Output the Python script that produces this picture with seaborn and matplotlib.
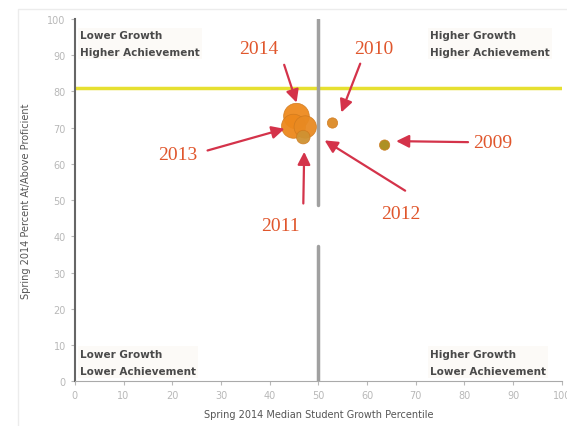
import matplotlib
matplotlib.use("Agg")
import matplotlib.pyplot as plt
import seaborn as sns
import pandas as pd

# Data
years = ["2014", "2013", "2012", "2011", "2010", "2009"]
growth = [45.5, 44.9, 47.3, 46.9, 52.9, 63.6]
proficient = [73.2, 70.4, 70.2, 67.4, 71.3, 65.2]
bubble = [10, 9, 8, 4, 3, 3]
colors = ["#ee8a1e", "#ec881c", "#e88a22", "#cf9232", "#dc8a26", "#a98a18"]

# label positions and arrow tails (data units)
label_x = [37.7, 21.2, 66.9, 42.2, 61.3, 85.8]
label_y = [92.0, 62.7, 46.4, 43.1, 92.0, 66.0]
tail_x = [42.8, 26.7, 68.3, 46.9, 58.8, 81.3]
tail_y = [88.1, 63.5, 52.2, 48.3, 88.4, 66.0]
head_x = [45.7, 43.6, 50.8, 47.1, 54.5, 65.4]
head_y = [76.2, 69.9, 66.9, 64.1, 73.5, 66.3]

target_line = 81
growth_mid = 50

quadrants = [
    (1, 97, "Lower Growth\nHigher Achievement"),
    (73, 97, "Higher Growth\nHigher Achievement"),
    (1, 9, "Lower Growth\nLower Achievement"),
    (73, 9, "Higher Growth\nLower Achievement"),
]

df = pd.DataFrame({"year": years, "growth": growth,
                   "proficient": proficient, "bubble": bubble})

sns.set_style("white")
plt.rcParams["font.family"] = ["DejaVu Sans"]

fig = plt.figure(figsize=(5.67, 4.27), dpi=100)
ax = fig.add_axes([0.132, 0.105, 0.859, 0.848])

# faint outer frame
fig.patches.append(plt.Rectangle((0.032, -0.1), 1.2, 1.077, transform=fig.transFigure,
                                 fill=False, edgecolor="#ececec", lw=1))

ax.axhline(target_line, color="#e6e030", lw=2.5, zorder=1)
ax.axvline(growth_mid, ymin=0, ymax=0.373, color="#a0a0a0", lw=2.5, zorder=1)
ax.axvline(growth_mid, ymin=0.486, ymax=1, color="#a0a0a0", lw=2.5, zorder=1)

sns.scatterplot(data=df, x="growth", y="proficient", size="bubble", sizes=(55, 340),
                hue="year", palette=dict(zip(years, colors)), legend=False,
                edgecolor="#d07a1e", linewidth=0.5, alpha=0.95, ax=ax, zorder=3)

for i, yr in enumerate(years):
    ax.text(label_x[i], label_y[i], yr, family="Liberation Serif", fontsize=14,
            color="#e0562c", ha="center", va="center", zorder=5)
    ax.annotate("", xy=(head_x[i], head_y[i]), xytext=(tail_x[i], tail_y[i]),
                arrowprops=dict(arrowstyle="-|>", color="#d4334a", lw=1.6,
                                mutation_scale=19), zorder=4)

for qx, qy, txt in quadrants:
    ax.text(qx, qy, txt, fontsize=7.5, fontweight="bold", color="#4a4a4a",
            ha="left", va="top", linespacing=1.9,
            bbox=dict(facecolor="#fcfaf7", edgecolor="none", pad=1.5))

ax.set_xlim(0, 100)
ax.set_ylim(0, 100)
ax.set_xticks(range(0, 101, 10))
ax.set_yticks(range(0, 101, 10))
ax.tick_params(axis="both", labelsize=7, colors="#b8b8b8", length=3, direction="out")
ax.tick_params(axis="both", which="both", bottom=True, left=True)
for side in ["top", "right"]:
    ax.spines[side].set_visible(False)
ax.spines["left"].set_color("#666666")
ax.spines["left"].set_linewidth(1.5)
ax.spines["bottom"].set_color("#aaaaaa")
ax.set_xlabel("Spring 2014 Median Student Growth Percentile", fontsize=7,
              color="#555555", labelpad=6)
ax.set_ylabel("Spring 2014 Percent At/Above Proficient", fontsize=7,
              color="#555555", labelpad=12)

fig.savefig("out.png", dpi=100)
